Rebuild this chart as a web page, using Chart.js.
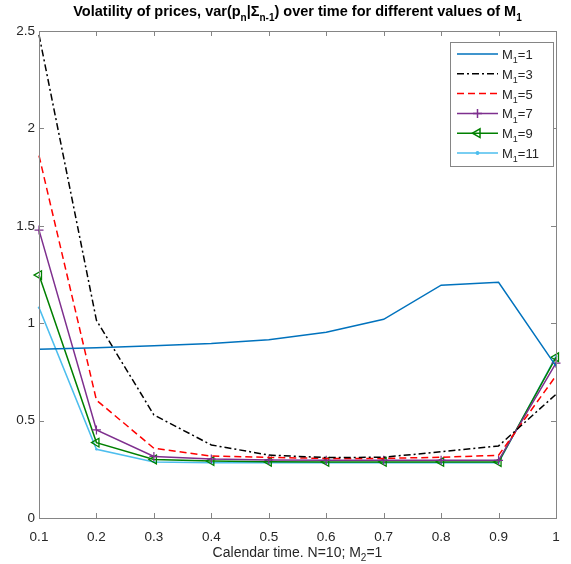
<!DOCTYPE html>
<html>
<head>
<meta charset="utf-8">
<script src="https://cdn.jsdelivr.net/npm/chart.js@4.4.0/dist/chart.umd.min.js"></script>
<style>
    html, body { margin: 0; padding: 0; background: #fff; }
</style>
</head>
<body>
<canvas id="vol" width="571" height="564"></canvas>
<script>
// Calendar time (x) and tick labels
const xValues = [0.1, 0.2, 0.3, 0.4, 0.5, 0.6, 0.7, 0.8, 0.9, 1.0];
const xTickLabels = ['0.1', '0.2', '0.3', '0.4', '0.5', '0.6', '0.7', '0.8', '0.9', '1'];
const yTicks = [0, 0.5, 1, 1.5, 2, 2.5];
const yTickLabels = ['0', '0.5', '1', '1.5', '2', '2.5'];

// var(p_n | Sigma_{n-1}) for each value of M1
const m1Values = [0.866, 0.874, 0.884, 0.896, 0.915, 0.953, 1.02, 1.195, 1.21, 0.78];
const m3Values = [2.48, 1.015, 0.529, 0.375, 0.323, 0.31, 0.312, 0.34, 0.37, 0.635];
const m5Values = [1.86, 0.605, 0.358, 0.318, 0.311, 0.306, 0.306, 0.312, 0.322, 0.73];
const m7Values = [1.478, 0.452, 0.316, 0.303, 0.298, 0.296, 0.296, 0.296, 0.296, 0.795];
const m9Values = [1.247, 0.387, 0.3, 0.292, 0.289, 0.288, 0.288, 0.288, 0.287, 0.825];
const m11Values = [1.08, 0.353, 0.288, 0.284, 0.283, 0.283, 0.283, 0.283, 0.283, 0.83];
const seriesNames = ['1', '3', '5', '7', '9', '11'];

const FONT = '"Liberation Sans", Arial, Helvetica, sans-serif';
const AXIS_GRAY = '#858585';
const TEXT_DARK = '#262626';

// Draw text where some parts are subscripts
function drawRich(ctx, parts, x, y, size, weight, align) {
    const subSize = Math.round(size * 0.72);
    const fontFor = sub => `${weight} ${sub ? subSize : size}px ${FONT}`;
    let total = 0;
    parts.forEach(([t, sub]) => {
        ctx.font = fontFor(sub);
        total += ctx.measureText(t).width;
    });
    let cx = align === 'center' ? x - total / 2 : x;
    ctx.textAlign = 'left';
    ctx.textBaseline = 'alphabetic';
    parts.forEach(([t, sub]) => {
        ctx.font = fontFor(sub);
        ctx.fillText(t, cx, sub ? y + size * 0.32 : y);
        cx += ctx.measureText(t).width;
    });
}

function makeDataset(name, values, color, extra) {
    return Object.assign({
        label: 'M1=' + name,
        data: xValues.map((x, i) => ({ x, y: values[i] })),
        borderColor: color,
        backgroundColor: color,
        borderWidth: 1.5,
        pointRadius: 0,
        tension: 0,
        clip: 8,
    }, extra);
}

const datasets = [
    makeDataset(seriesNames[0], m1Values, '#0072BD', {}),
    makeDataset(seriesNames[1], m3Values, '#000000', { borderDash: [7, 3, 2, 3] }),
    makeDataset(seriesNames[2], m5Values, '#FF0000', { borderDash: [7, 4] }),
    makeDataset(seriesNames[3], m7Values, '#7E2F8E', {
        pointStyle: 'cross', pointRadius: 4.5, pointBorderWidth: 1.2 }),
    makeDataset(seriesNames[4], m9Values, '#008000', {
        pointStyle: 'triangle', pointRotation: -90, pointRadius: 5, pointBorderWidth: 1.3,
        pointBackgroundColor: 'rgba(255,255,255,0)' }),
    makeDataset(seriesNames[5], m11Values, '#4DBEEE', {
        pointStyle: 'circle', pointRadius: 1.2, pointBorderWidth: 0 }),
];

// Box, inward ticks, title, x title and legend in MATLAB style
const matlabFrame = {
    id: 'matlabFrame',
    afterDraw(chart) {
        const ctx = chart.ctx;
        const area = chart.chartArea;
        const xs = chart.scales.x, ys = chart.scales.y;
        const tick = 5;
        ctx.save();
        ctx.strokeStyle = AXIS_GRAY;
        ctx.lineWidth = 1;
        ctx.strokeRect(Math.round(area.left) + 0.5, Math.round(area.top) + 0.5,
            Math.round(area.right - area.left), Math.round(area.bottom - area.top));
        ctx.beginPath();
        xValues.forEach(v => {
            const px = Math.round(xs.getPixelForValue(v)) + 0.5;
            ctx.moveTo(px, area.bottom); ctx.lineTo(px, area.bottom - tick);
            ctx.moveTo(px, area.top); ctx.lineTo(px, area.top + tick);
        });
        yTicks.forEach(v => {
            const py = Math.round(ys.getPixelForValue(v)) + 0.5;
            ctx.moveTo(area.left, py); ctx.lineTo(area.left + tick, py);
            ctx.moveTo(area.right, py); ctx.lineTo(area.right - tick, py);
        });
        ctx.stroke();

        // title
        const cx = (area.left + area.right) / 2;
        ctx.fillStyle = '#000';
        drawRich(ctx, [['Volatility of prices, var(p', 0], ['n', 1], ['|\u03A3', 0], ['n-1', 1],
            [') over time for different values of M', 0], ['1', 1]], cx, 16, 14.5, 'bold', 'center');

        // x axis title
        ctx.fillStyle = TEXT_DARK;
        drawRich(ctx, [['Calendar time. N=10; M', 0], ['2', 1], ['=1', 0]], cx, 557, 14, 'normal', 'center');

        // legend
        const lx = 450.5, ly = 42.5, lw = 103, lh = 124;
        ctx.fillStyle = '#fff';
        ctx.fillRect(lx, ly, lw, lh);
        ctx.strokeStyle = AXIS_GRAY;
        ctx.strokeRect(lx, ly, lw, lh);
        chart.data.datasets.forEach((ds, i) => {
            const rowY = 54 + i * 19.8;
            ctx.strokeStyle = ds.borderColor;
            ctx.lineWidth = ds.borderWidth;
            ctx.setLineDash(ds.borderDash || []);
            ctx.beginPath();
            ctx.moveTo(457, rowY);
            ctx.lineTo(498, rowY);
            ctx.stroke();
            ctx.setLineDash([]);
            if (ds.pointRadius > 0) {
                ctx.fillStyle = ds.pointBackgroundColor || ds.borderColor;
                Chart.helpers.drawPoint(ctx, {
                    pointStyle: ds.pointStyle, rotation: ds.pointRotation || 0,
                    radius: ds.pointRadius, borderWidth: ds.pointBorderWidth || 1,
                }, 477.5, rowY);
            }
            ctx.fillStyle = TEXT_DARK;
            drawRich(ctx, [['M', 0], ['1', 1], ['=' + seriesNames[i], 0]], 502, rowY + 5, 13, 'normal', 'left');
        });
        ctx.restore();
    }
};

new Chart(document.getElementById('vol'), {
    type: 'line',
    data: { datasets },
    plugins: [matlabFrame],
    options: {
        responsive: false,
        animation: false,
        layout: { padding: { left: 0, right: 15, top: 31, bottom: 0 } },
        plugins: {
            legend: { display: false },
            title: { display: false },
            tooltip: { enabled: false },
        },
        scales: {
            x: {
                type: 'linear',
                min: 0.1,
                max: 1,
                afterBuildTicks: scale => { scale.ticks = xValues.map(v => ({ value: v })); },
                afterFit: scale => { scale.height = 46; },
                grid: { display: false, drawTicks: false },
                border: { display: false },
                ticks: {
                    padding: 11,
                    maxRotation: 0,
                    autoSkip: false,
                    color: TEXT_DARK,
                    font: { family: FONT, size: 13.5 },
                    callback: (v, i) => xTickLabels[i],
                },
            },
            y: {
                min: 0,
                max: 2.5,
                afterBuildTicks: scale => { scale.ticks = yTicks.map(v => ({ value: v })); },
                afterFit: scale => { scale.width = 39; },
                grid: { display: false, drawTicks: false },
                border: { display: false },
                ticks: {
                    padding: 4,
                    color: TEXT_DARK,
                    font: { family: FONT, size: 13.5 },
                    callback: (v, i) => yTickLabels[i],
                },
            },
        },
    },
});
</script>
</body>
</html>
